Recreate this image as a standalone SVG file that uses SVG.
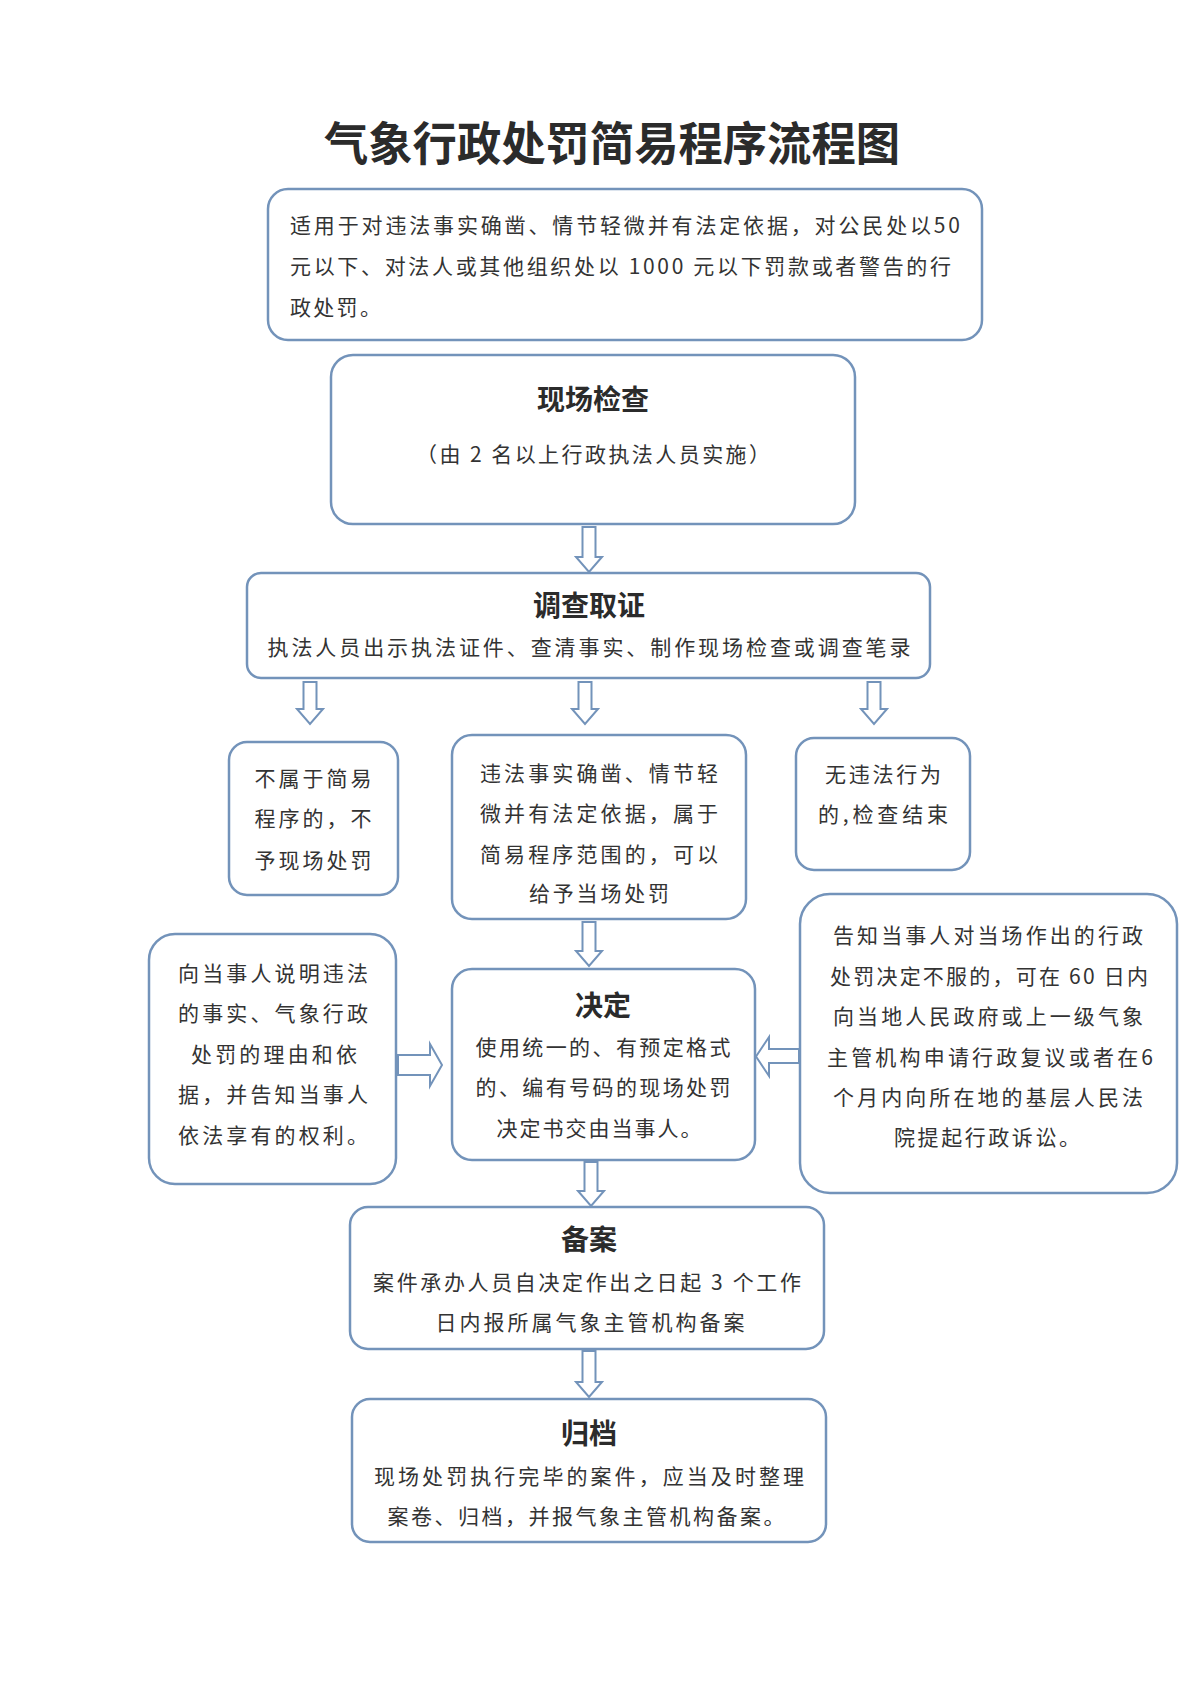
<svg xmlns="http://www.w3.org/2000/svg" width="1199" height="1696" viewBox="0 0 1199 1696">
<style>
.box{fill:#fff;stroke:#7393ba;stroke-width:2.5}
.arr{fill:#fff;stroke:#7393ba;stroke-width:2;stroke-linejoin:miter}
text{font-family:"Noto Sans CJK SC","Noto Sans",sans-serif;fill:#333}
.t{font-size:21px;text-anchor:middle}
.l{font-size:21px}
.h{font-size:28px;font-weight:bold;text-anchor:middle;fill:#2b2b2b}
.title{font-size:46px;font-weight:bold;text-anchor:middle;fill:#2b2b2b}
</style>
<rect width="1199" height="1696" fill="#fff"/>
<text class="title" x="612" y="160" textLength="576" lengthAdjust="spacingAndGlyphs">气象行政处罚简易程序流程图</text>

<g id="scope">
<rect class="box" x="268" y="189" width="714" height="151" rx="20"/>
<text class="l" x="290" y="233" textLength="670" lengthAdjust="spacing">适用于对违法事实确凿、情节轻微并有法定依据，对公民处以50</text>
<text class="l" x="290" y="274" textLength="661" lengthAdjust="spacing">元以下、对法人或其他组织处以 1000 元以下罚款或者警告的行</text>
<text class="l" x="290" y="315" letter-spacing="2.3">政处罚。</text>
</g>

<g id="inspect">
<rect class="box" x="331" y="355" width="524" height="169" rx="22"/>
<text class="h" x="593" y="410">现场检查</text>
<text class="t" x="593" y="462" textLength="354" lengthAdjust="spacing">（由 2 名以上行政执法人员实施）</text>
</g>

<g id="investigate">
<rect class="box" x="247" y="573" width="683" height="105" rx="14"/>
<text class="h" x="589" y="616">调查取证</text>
<text class="t" x="589" y="655" textLength="643" lengthAdjust="spacing">执法人员出示执法证件、查清事实、制作现场检查或调查笔录</text>
</g>

<g id="notsimple">
<rect class="box" x="229" y="742" width="169" height="153" rx="18"/>
<text class="t" x="313" y="786" textLength="117" lengthAdjust="spacing">不属于简易</text>
<text class="t" x="313" y="826" textLength="117" lengthAdjust="spacing">程序的，不</text>
<text class="t" x="313" y="868" textLength="117" lengthAdjust="spacing">予现场处罚</text>
</g>

<g id="simple">
<rect class="box" x="452" y="735" width="294" height="184" rx="20"/>
<text class="t" x="599" y="781" textLength="238" lengthAdjust="spacing">违法事实确凿、情节轻</text>
<text class="t" x="599" y="821" textLength="238" lengthAdjust="spacing">微并有法定依据，属于</text>
<text class="t" x="599" y="862" textLength="238" lengthAdjust="spacing">简易程序范围的，可以</text>
<text class="t" x="599" y="901" textLength="140" lengthAdjust="spacing">给予当场处罚</text>
</g>

<g id="noviolation">
<rect class="box" x="796" y="738" width="174" height="132" rx="18"/>
<text class="t" x="883" y="782" textLength="116" lengthAdjust="spacing">无违法行为</text>
<text class="t" x="883" y="822" textLength="130" lengthAdjust="spacing">的,检查结束</text>
</g>

<g id="explain">
<rect class="box" x="149" y="934" width="247" height="250" rx="26"/>
<text class="t" x="273" y="981" textLength="190" lengthAdjust="spacing">向当事人说明违法</text>
<text class="t" x="273" y="1021" textLength="190" lengthAdjust="spacing">的事实、气象行政</text>
<text class="t" x="274" y="1062" textLength="166" lengthAdjust="spacing">处罚的理由和依</text>
<text class="t" x="273" y="1102" textLength="190" lengthAdjust="spacing">据，并告知当事人</text>
<text class="t" x="273" y="1143" textLength="190" lengthAdjust="spacing">依法享有的权利。</text>
</g>

<g id="decide">
<rect class="box" x="452" y="969" width="303" height="191" rx="20"/>
<text class="h" x="603" y="1016">决定</text>
<text class="t" x="603" y="1055" textLength="255" lengthAdjust="spacing">使用统一的、有预定格式</text>
<text class="t" x="603" y="1095" textLength="255" lengthAdjust="spacing">的、编有号码的现场处罚</text>
<text class="t" x="599" y="1136" textLength="205" lengthAdjust="spacing">决定书交由当事人。</text>
</g>

<g id="notify">
<rect class="box" x="800" y="894" width="377" height="299" rx="30"/>
<text class="t" x="988" y="943" textLength="310" lengthAdjust="spacing">告知当事人对当场作出的行政</text>
<text class="t" x="989" y="984" textLength="318" lengthAdjust="spacing">处罚决定不服的，可在 60 日内</text>
<text class="t" x="988" y="1024" textLength="310" lengthAdjust="spacing">向当地人民政府或上一级气象</text>
<text class="t" x="990" y="1065" textLength="326" lengthAdjust="spacing">主管机构申请行政复议或者在6</text>
<text class="t" x="988" y="1105" textLength="310" lengthAdjust="spacing">个月内向所在地的基层人民法</text>
<text class="t" x="987" y="1145" textLength="186" lengthAdjust="spacing">院提起行政诉讼。</text>
</g>

<g id="file">
<rect class="box" x="350" y="1207" width="474" height="142" rx="18"/>
<text class="h" x="589" y="1250">备案</text>
<text class="t" x="587" y="1290" textLength="428" lengthAdjust="spacing">案件承办人员自决定作出之日起 3 个工作</text>
<text class="t" x="590" y="1330" textLength="309" lengthAdjust="spacing">日内报所属气象主管机构备案</text>
</g>

<g id="archive">
<rect class="box" x="352" y="1399" width="474" height="143" rx="18"/>
<text class="h" x="589" y="1444">归档</text>
<text class="t" x="589" y="1484" textLength="430" lengthAdjust="spacing">现场处罚执行完毕的案件，应当及时整理</text>
<text class="t" x="586" y="1524" textLength="397" lengthAdjust="spacing">案卷、归档，并报气象主管机构备案。</text>
</g>

<g id="connectors">
<polygon class="arr" points="582.5,527 595.5,527 595.5,557 602,557 589,572 576,557 582.5,557"/>
<polygon class="arr" points="303.5,682 316.5,682 316.5,709 323,709 310,724 297,709 303.5,709"/>
<polygon class="arr" points="578.5,682 591.5,682 591.5,709 598,709 585,724 572,709 578.5,709"/>
<polygon class="arr" points="867.5,682 880.5,682 880.5,709 887,709 874,724 861,709 867.5,709"/>
<polygon class="arr" points="582.5,922 595.5,922 595.5,951 602,951 589,966 576,951 582.5,951"/>
<polygon class="arr" points="584.5,1162 597.5,1162 597.5,1191 604,1191 591,1206 578,1191 584.5,1191"/>
<polygon class="arr" points="582.5,1351 595.5,1351 595.5,1382 602,1382 589,1397 576,1382 582.5,1382"/>
<polygon class="arr" points="398,1055 430,1055 430,1044 442,1065 430,1086 430,1075 398,1075"/>
<polygon class="arr" points="799,1049 769,1049 769,1037 756,1056.5 769,1076 769,1063 799,1063"/>
</g>
</svg>
